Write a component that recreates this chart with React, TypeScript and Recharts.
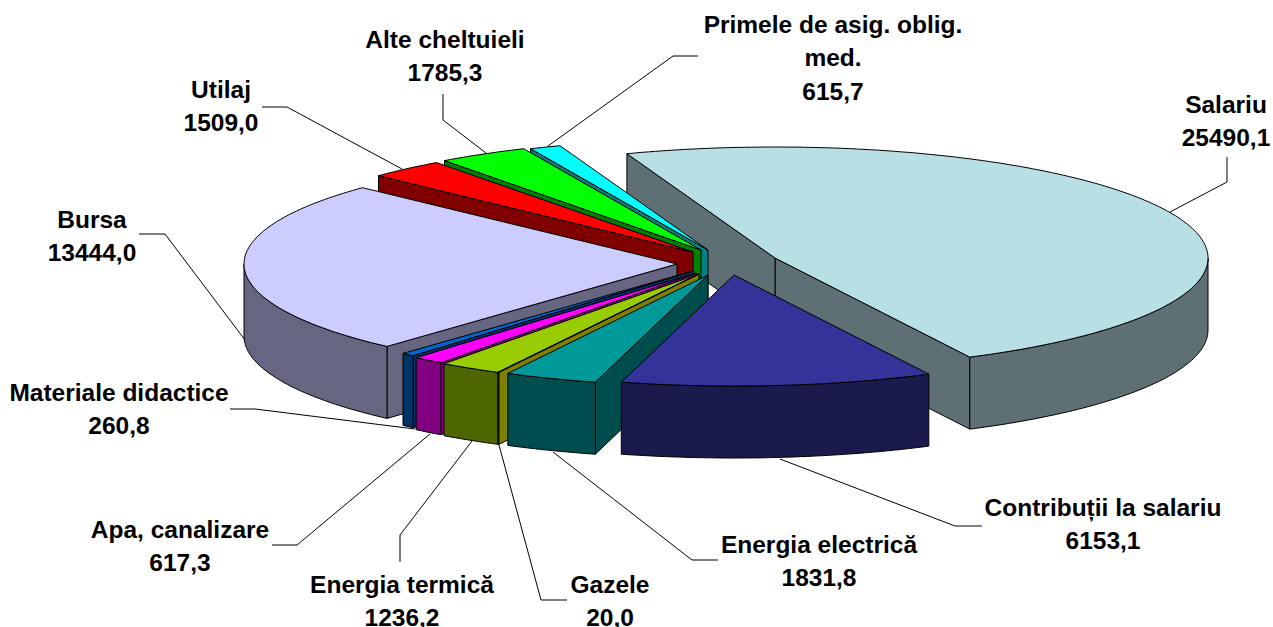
import React from 'react';
import { PieChart, Pie } from 'recharts';

// slices in paint order (back to front), the pie runs counter-clockwise from Salariu
const sliceNames = [
  'Salariu',
  'Primele de asig. oblig. med.',
  'Alte cheltuieli',
  'Utilaj',
  'Bursa',
  'Materiale didactice',
  'Apa, canalizare',
  'Energia termică',
  'Gazele',
  'Energia electrică',
  'Contribuții la salariu',
];
const sliceValues = [25490.1, 615.7, 1785.3, 1509.0, 13444.0, 260.8, 617.3, 1236.2, 20.0, 1831.8, 6153.1];
const topColors = ['#B8E0E4', '#00FFFF', '#00FF00', '#FF0000', '#CCCCFF', '#0066CC', '#FF00FF', '#99CC00', '#FFFF00', '#009999', '#333399'];
const wallColors = ['#5E7073', '#008080', '#008000', '#800000', '#666680', '#003366', '#800080', '#4D6600', '#808000', '#004D4D', '#1A1A4D'];

const WIDTH = 1273;
const HEIGHT = 627;
const CX = 696;
const CY = 262;
const RADIUS = 433;
const RADIUS_Y = 111;
const DEPTH = 72;
const FONT_SIZE = 24.5;

// how far each slice is pulled out of the pie, in pixels
const explode: [number, number][] = [
  [79, -4],
  [12, -12],
  [5, -12],
  [-3, -10],
  [-19, 2],
  [-3, 9],
  [0, 11],
  [3, 12],
  [3, 12],
  [12, 13],
  [38, 13],
];

// label lines and leader lines, same order as sliceNames
const labelLines: string[][] = [
  ['Salariu'],
  ['Primele de asig. oblig.', 'med.'],
  ['Alte cheltuieli'],
  ['Utilaj'],
  ['Bursa'],
  ['Materiale didactice'],
  ['Apa, canalizare'],
  ['Energia termică'],
  ['Gazele'],
  ['Energia electrică'],
  ['Contribuții la salariu'],
];
const labelPos: [number, number][] = [
  [1226, 113],
  [833, 33],
  [445, 48],
  [221, 98],
  [92, 228],
  [119, 401],
  [180, 538],
  [402, 593],
  [610, 593],
  [819, 553],
  [1103, 516],
];
const leaders: string[] = [
  '1170,212 1227,182 1227,157',
  '548,146 673,56 698,56',
  '486,153 443,120 443,94',
  '402,169 287,107 262,107',
  '245,340 165,234 139,234',
  '415,429 255,409 230,409',
  '430,434 297,545 272,545',
  '472,441 400,535 400,562',
  '499,445 541,600 567,600',
  '553,452 692,560 718,560',
  '780,459 955,526 982,526',
];

const chartData = sliceNames.map((name, i) => ({ name, value: sliceValues[i], fill: topColors[i] }));

const rad = (a: number) => (a * Math.PI) / 180;

const arcPoints = (ox: number, oy: number, from: number, to: number) => {
  const pts: [number, number][] = [];
  const steps = Math.max(1, Math.ceil(to - from));
  for (let s = 0; s <= steps; s++) {
    const a = rad(from + ((to - from) * s) / steps);
    pts.push([ox + RADIUS * Math.cos(a), oy - RADIUS_Y * Math.sin(a)]);
  }
  return pts;
};

const toPath = (pts: [number, number][]) => pts.map(p => `${p[0].toFixed(1)},${p[1].toFixed(1)}`).join(' ');

// one exploded slice: visible cut faces, outer wall, then the top
const Slice3D = (props: any) => {
  const { name, startAngle, endAngle, cx, cy } = props;
  const idx = sliceNames.indexOf(name);
  const ox = cx + explode[idx][0];
  const oy = cy + explode[idx][1];
  const a0 = Math.min(startAngle, endAngle);
  const a1 = Math.max(startAngle, endAngle);
  const wall = wallColors[idx];
  const arc = arcPoints(ox, oy, a0, a1);
  const first = arc[0];
  const last = arc[arc.length - 1];

  const cutFace = (p: [number, number], key: string) => (
    <polygon
      key={key}
      points={toPath([[ox, oy], p, [p[0], p[1] + DEPTH], [ox, oy + DEPTH]])}
      fill={wall}
      stroke="#000"
      strokeWidth={1}
      strokeLinejoin="round"
    />
  );

  // only the lower half of the rim can be seen
  const rims: [number, number][] = [];
  [[-180, 0], [180, 360]].forEach(([lo, hi]) => {
    const from = Math.max(a0, lo);
    const to = Math.min(a1, hi);
    if (to > from) rims.push([from, to]);
  });

  return (
    <g>
      {Math.cos(rad(a0)) > 0 && cutFace(first, 'a')}
      {Math.cos(rad(a1)) < 0 && cutFace(last, 'b')}
      {rims.map(([from, to]) => {
        const top = arcPoints(ox, oy, from, to);
        const bottom = top.map(p => [p[0], p[1] + DEPTH] as [number, number]).reverse();
        return <polygon key={from} points={toPath([...top, ...bottom])} fill={wall} stroke="#000" strokeWidth={1} strokeLinejoin="round" />;
      })}
      <polygon points={toPath([[ox, oy], ...arc])} fill={topColors[idx]} stroke="#000" strokeWidth={1} strokeLinejoin="round" />
    </g>
  );
};

const SliceLabel = (props: any) => {
  const idx = sliceNames.indexOf(props.name);
  const [x, y] = labelPos[idx];
  const lines = [...labelLines[idx], sliceValues[idx].toFixed(1).replace('.', ',')];
  return (
    <g>
      <polyline points={leaders[idx]} fill="none" stroke="#000" strokeWidth={1} />
      <text x={x} y={y} textAnchor="middle" fontFamily="'Liberation Sans', Arial, sans-serif" fontWeight="bold" fontSize={FONT_SIZE} fill="#000">
        {lines.map((t, i) => (
          <tspan key={i} x={x} y={y + i * 33.3}>
            {t}
          </tspan>
        ))}
      </text>
    </g>
  );
};

export default function App() {
  return (
    <div style={{ position: 'fixed', left: 0, top: 0, width: WIDTH, height: HEIGHT, background: '#fff' }}>
      <PieChart width={WIDTH} height={HEIGHT} margin={{ top: 0, right: 0, bottom: 0, left: 0 }}>
        <Pie
          data={chartData}
          dataKey="value"
          nameKey="name"
          cx={CX}
          cy={CY}
          innerRadius={0}
          outerRadius={RADIUS}
          startAngle={-63.26}
          endAngle={296.74}
          stroke="#000"
          shape={Slice3D}
          label={SliceLabel}
          labelLine={false}
          isAnimationActive={false}
        />
      </PieChart>
    </div>
  );
}
